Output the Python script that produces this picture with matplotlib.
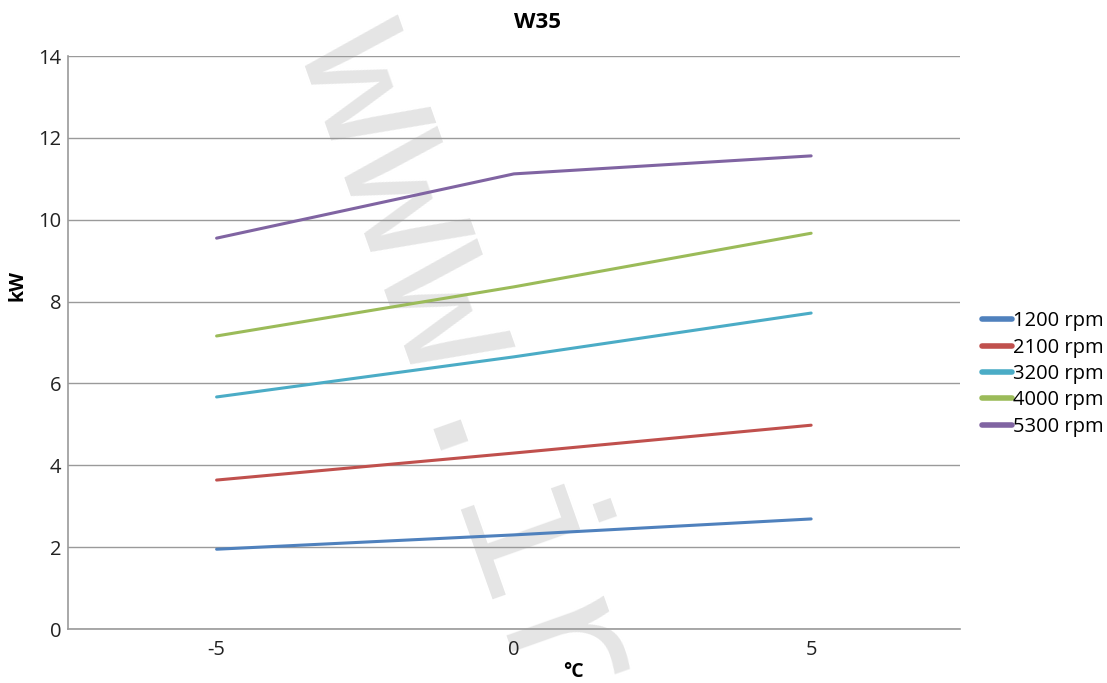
import matplotlib.pyplot as plt

plt.rcParams['font.family'] = ['Open Sans', 'DejaVu Sans']

# data
temps = ['-5', '0', '5']
series_names = ['1200 rpm', '2100 rpm', '3200 rpm', '4000 rpm', '5300 rpm']
kw_1200 = [1.95, 2.30, 2.69]
kw_2100 = [3.64, 4.30, 4.98]
kw_3200 = [5.67, 6.65, 7.72]
kw_4000 = [7.16, 8.36, 9.67]
kw_5300 = [9.55, 11.12, 11.56]
colors = ['#4F81BD', '#C0504D', '#4BACC6', '#9BBB59', '#8064A2']

fig = plt.figure(figsize=(11.07, 6.83), dpi=100)
ax = fig.add_axes([0.0614, 0.079, 0.8056, 0.839])

x = range(len(temps))
for vals, name, c in zip([kw_1200, kw_2100, kw_3200, kw_4000, kw_5300], series_names, colors):
    ax.plot(x, vals, color=c, lw=2.2, label=name, zorder=3, solid_capstyle='round')

ax.set_xlim(-0.5, 2.5)
ax.set_ylim(0, 14)
ax.set_xticks(list(x))
ax.set_xticklabels(temps)
ax.set_yticks(range(0, 15, 2))
ax.tick_params(length=0, labelsize=14.5, colors='#222222', pad=8)
ax.tick_params(axis='y', pad=5)
ax.yaxis.grid(True, color='#9a9a9a', lw=1)
ax.set_axisbelow(True)
for s in ['top', 'right']:
    ax.spines[s].set_visible(False)
for s in ['left', 'bottom']:
    ax.spines[s].set_color('#9a9a9a')
    ax.spines[s].set_linewidth(1.2)

fig.text(538 / 1107, 1 - 22 / 683, 'W35', fontsize=16, fontweight='bold', ha='center', va='center')
ax.set_ylabel('kW', fontsize=14, fontweight='bold')
ax.yaxis.set_label_coords(-0.045, 0.6)
fig.text(0.518, 0.001, '°C', fontsize=14, fontweight='bold', ha='center', va='bottom')

# watermark (behind grid and tick labels)
ax.text(0.375, 0.435, 'www.ir', transform=fig.transFigure, fontsize=143, color='#e5e5e5',
        family='Liberation Mono', rotation=-70.5, rotation_mode='anchor',
        ha='center', va='baseline', zorder=0.3, clip_on=False)

leg = ax.legend(loc='center left', bbox_to_anchor=(1.005, 0.445), frameon=False,
                fontsize=14.5, handlelength=1.45, handletextpad=0.08, labelspacing=0.32)
for h in leg.get_lines():
    h.set_linewidth(4)

fig.savefig('out.png', dpi=100)
